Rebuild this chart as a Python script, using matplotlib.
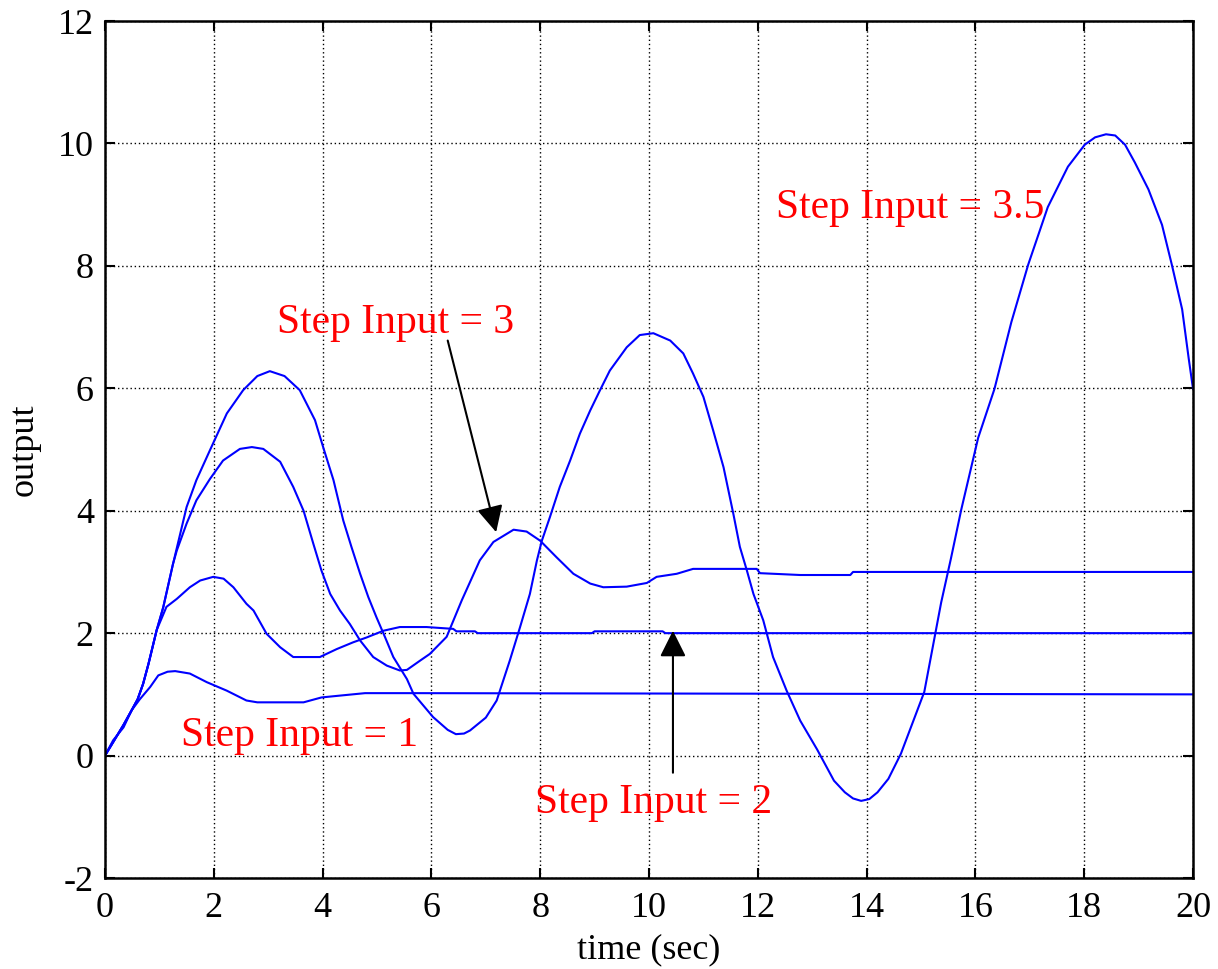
import numpy as np
import matplotlib.pyplot as plt

# --------------------------------------------------------------------------- #
# Data (time [s], output)
# --------------------------------------------------------------------------- #
t1 = [0, 0.15, 0.34, 0.49, 0.64, 0.83, 0.98, 1.15, 1.29, 1.56, 1.87, 2.24, 2.6,
      2.8, 3.65, 3.98, 4.32, 4.78, 5.67, 20];
y1 = [0, 0.25, 0.46, 0.74, 0.92, 1.12, 1.31, 1.37, 1.38, 1.34, 1.20, 1.06, 0.90,
      0.87, 0.87, 0.95, 0.98, 1.02, 1.02, 1.0];

t2 = [0, 0.15, 0.34, 0.49, 0.6, 0.7, 0.8, 0.95, 1.13, 1.32, 1.56, 1.75, 1.99,
      2.18, 2.36, 2.6, 2.73, 2.97, 3.22, 3.46, 3.95, 4.26, 4.56, 4.81, 5.12,
      5.42, 5.91, 6.4, 6.46, 6.8, 6.85, 8.95, 9.0, 10.25, 10.3, 20];
y2 = [0, 0.22, 0.5, 0.74, 0.92, 1.17, 1.5, 2.05, 2.43, 2.56, 2.75, 2.86, 2.92,
      2.89, 2.75, 2.48, 2.37, 1.99, 1.77, 1.61, 1.61, 1.74, 1.85, 1.93, 2.04,
      2.10, 2.10, 2.07, 2.03, 2.03, 2.0, 2.0, 2.03, 2.03, 2.0, 2.0];

t3 = [0, 0.15, 0.34, 0.49, 0.6, 0.7, 0.8, 0.89, 0.95, 1.07, 1.25, 1.32, 1.5,
      1.68, 1.93, 2.17, 2.48, 2.7, 2.91, 3.22, 3.46, 3.65, 3.83, 3.98, 4.14,
      4.32, 4.5, 4.69, 4.93, 5.18, 5.42, 5.55, 5.79, 5.97, 6.28, 6.56, 6.89,
      7.14, 7.51, 7.75, 8.0, 8.3, 8.61, 8.92, 9.16, 9.59, 9.96, 10.14, 10.51,
      10.81, 11.98, 12.04, 12.78, 13.7, 13.75, 20];
y3 = [0, 0.22, 0.5, 0.74, 0.92, 1.17, 1.5, 1.83, 2.05, 2.42, 3.13, 3.35, 3.79,
      4.17, 4.52, 4.82, 5.01, 5.04, 5.01, 4.80, 4.39, 4.0, 3.46, 3.02, 2.64,
      2.37, 2.15, 1.88, 1.61, 1.47, 1.39, 1.40, 1.55, 1.66, 1.94, 2.54, 3.19,
      3.49, 3.69, 3.66, 3.51, 3.24, 2.97, 2.81, 2.75, 2.76, 2.82, 2.92, 2.97,
      3.05, 3.05, 2.98, 2.95, 2.95, 3.0, 3.0];

t4 = [0, 0.15, 0.34, 0.49, 0.6, 0.7, 0.8, 0.89, 0.95, 1.07, 1.25, 1.5, 1.68,
      1.93, 2.24, 2.54, 2.8, 3.03, 3.3, 3.58, 3.86, 4.01, 4.2, 4.38, 4.53,
      4.69, 4.84, 4.99, 5.15, 5.3, 5.55, 5.67, 6.03, 6.3, 6.45, 6.6, 6.71,
      7.0, 7.2, 7.44, 7.63, 7.81, 7.94, 8.03, 8.18, 8.36, 8.55, 8.73, 8.92,
      9.1, 9.28, 9.59, 9.83, 10.08, 10.39, 10.63, 10.81, 11.0, 11.18, 11.37,
      11.55, 11.67, 11.8, 11.92, 12.1, 12.28, 12.53, 12.78, 13.09, 13.4, 13.6,
      13.75, 13.9, 14.05, 14.2, 14.4, 14.63, 15.06, 15.37, 15.55, 15.74, 16.05,
      16.35, 16.66, 16.97, 17.33, 17.7, 18.01, 18.2, 18.4, 18.57, 18.75, 18.93,
      19.18, 19.43, 19.61, 19.8, 19.92, 20.0];
y4 = [0, 0.22, 0.5, 0.74, 0.92, 1.17, 1.5, 1.83, 2.05, 2.42, 3.13, 4.06, 4.5,
      4.99, 5.59, 5.97, 6.2, 6.28, 6.2, 5.97, 5.48, 5.04, 4.5, 3.84, 3.41,
      2.97, 2.59, 2.26, 1.93, 1.61, 1.25, 1.01, 0.63, 0.42, 0.35, 0.36, 0.41,
      0.62, 0.9, 1.55, 2.1, 2.64, 3.19, 3.51, 3.9, 4.39, 4.82, 5.26, 5.64,
      5.97, 6.29, 6.67, 6.87, 6.9, 6.78, 6.57, 6.24, 5.86, 5.31, 4.71,
      3.95, 3.41, 3.02, 2.64, 2.21, 1.61, 1.06, 0.57, 0.1, -0.41, -0.6,
      -0.7, -0.74, -0.71, -0.6, -0.38, 0.03, 1.04, 2.5, 3.22, 4.02, 5.19,
      5.99, 7.08, 8.02, 8.96, 9.62, 9.98, 10.1, 10.15, 10.13, 9.98, 9.69,
      9.25, 8.67, 8.02, 7.29, 6.49, 5.99];

labels = ["Step Input = 1", "Step Input = 2", "Step Input = 3", "Step Input = 3.5"];
labelPos = [(3.58, 0.16), (10.09, -0.93), (5.35, 6.9), (14.8, 8.78)];

# --------------------------------------------------------------------------- #
# Plot
# --------------------------------------------------------------------------- #
plt.rcParams['font.family'] = ['Liberation Serif', 'DejaVu Serif'];
plt.rcParams['axes.unicode_minus'] = False;

fig = plt.figure(figsize=(12.18, 9.69), dpi=100);
ax = fig.add_axes([0.0862, 0.0939, 0.8933, 0.8844]);

for t, y in [(t1, y1), (t2, y2), (t3, y3), (t4, y4)]:
  ax.plot(t, y, color='#0000ff', lw=1.5);

ax.set_xlim([0, 20]);
ax.set_ylim([-2, 12]);
ax.set_xticks(np.arange(0, 21, 2));
ax.set_yticks(np.arange(-2, 13, 2));
ax.grid(True, color='k', linestyle=(0, (1, 2)), lw=1.0);
ax.tick_params(direction='in', length=7, width=1.5, labelsize=26,
               top=True, right=True);
ax.tick_params(axis='x', pad=10);
ax.tick_params(axis='y', pad=8);
for s in ax.spines.values():
  s.set_linewidth(1.8);

ax.set_xlabel('time (sec)', fontsize=26, labelpad=6);
ax.set_ylabel('output', fontsize=26, labelpad=12);

for lab, (x, y) in zip(labels, labelPos):
  ax.text(x, y, lab, color='#ff0000', fontsize=30, ha='center', va='baseline');

# arrows pointing at the step 2 and step 3 responses
ax.annotate('', xy=(7.19, 3.65), xytext=(6.3, 6.78),
            arrowprops=dict(arrowstyle='-|>', color='k', lw=1.5,
                            mutation_scale=40, shrinkA=0, shrinkB=0));
ax.annotate('', xy=(10.44, 2.04), xytext=(10.44, -0.28),
            arrowprops=dict(arrowstyle='-|>', color='k', lw=1.5,
                            mutation_scale=40, shrinkA=0, shrinkB=0));

plt.savefig('out.png', dpi=100);
